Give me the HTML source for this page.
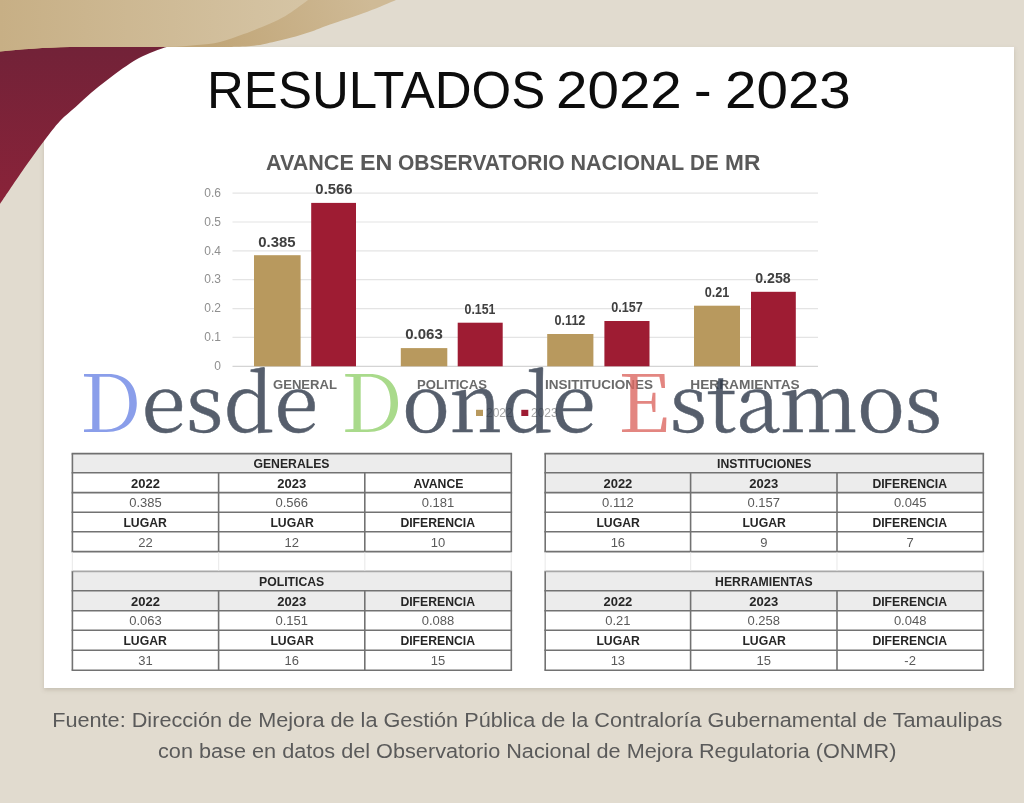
<!DOCTYPE html>
<html lang="es">
<head>
<meta charset="utf-8">
<title>Resultados 2022 - 2023</title>
<style>
html,body{margin:0;padding:0;}
body{width:1024px;height:803px;overflow:hidden;background:#e1dbcf;position:relative;font-family:"Liberation Sans",sans-serif;}
.abs{position:absolute;}
#deco{position:absolute;left:0;top:0;}
#card{position:absolute;left:44px;top:46.8px;width:969.6px;height:641.2px;background:#fff;box-shadow:0 2px 4px rgba(120,110,95,.25);}
#title{position:absolute;left:206.6px;top:60px;font-size:52.55px;line-height:60px;color:#0d0d0d;white-space:nowrap;letter-spacing:0px;}
#ctitle{position:absolute;left:266px;top:150.3px;font-size:21.55px;line-height:26px;font-weight:bold;color:#595959;white-space:nowrap;}
.yl{position:absolute;left:190px;width:31px;text-align:right;font-size:12px;line-height:14px;color:#8f8f8f;}
.dl{position:absolute;width:60px;text-align:center;font-size:14px;line-height:14px;font-weight:bold;color:#404040;}
.cl{position:absolute;width:140px;text-align:center;font-size:13.1px;line-height:14px;font-weight:bold;color:#6a6a6a;}
.lg{position:absolute;font-size:12px;line-height:14px;color:#a6a6a6;}
#wm{position:absolute;left:79.75px;top:348.2px;font-family:"Noto Serif CJK SC","DejaVu Serif","Liberation Serif",serif;font-size:80px;line-height:100px;color:#2c3748;white-space:nowrap;word-spacing:2px;opacity:.8;-webkit-text-stroke:.5px #2c3748;}
#wm .c{-webkit-text-stroke:0;}
.tc{position:absolute;text-align:center;font-size:13px;line-height:16px;height:16px;color:#5a5a5a;white-space:nowrap;}
.tc.b{font-weight:bold;color:#262626;}
.tc .n{display:inline-block;transform:scaleX(.94);transform-origin:50% 50%;}
.w1{letter-spacing:.3px}.w2{letter-spacing:-.4px}.w3{letter-spacing:-.4px}
.tp{position:absolute;top:0;transform-origin:0 50%;}
#cap .ln{height:31.3px;white-space:nowrap;transform:scaleY(.92);transform-origin:50% 23.15px;}
#cap{position:absolute;left:0;top:704px;width:1054.5px;text-align:center;font-size:21.68px;line-height:31.3px;color:#5a5a5a;}
</style>
</head>
<body>
<div id="card"></div>
<svg id="deco" viewBox="0 0 1024 803" width="1024" height="803">
  <defs>
    <linearGradient id="mg" gradientUnits="userSpaceOnUse" x1="0" y1="47" x2="0" y2="204">
      <stop offset="0" stop-color="#722238"/><stop offset="1" stop-color="#8a2339"/>
    </linearGradient>
    <linearGradient id="tg" gradientUnits="userSpaceOnUse" x1="0" y1="0" x2="300" y2="0">
      <stop offset="0" stop-color="#c7af85"/><stop offset="1" stop-color="#d5c4a4"/>
    </linearGradient>
    <linearGradient id="tg2" gradientUnits="userSpaceOnUse" x1="215" y1="47" x2="370" y2="0">
      <stop offset="0" stop-color="#c1a678"/><stop offset="1" stop-color="#cfba96"/>
    </linearGradient>
  </defs>
  <path d="M0 40 L176 40 L176.0 46.5 C174.6 46.5 171.5 45.9 167.8 46.7 C164.1 47.5 158.7 49.5 153.8 51.4 C148.8 53.3 143.3 55.5 138.1 58.4 C132.9 61.3 127.7 64.9 122.5 68.6 C117.3 72.2 112.1 76.3 106.9 80.3 C101.7 84.3 96.5 88.4 91.2 92.8 C86.0 97.2 80.8 102.2 75.6 106.9 C70.4 111.6 65.3 115.2 60.0 120.9 C54.7 126.6 50.3 132.6 44.0 141.0 C37.7 149.4 29.3 161.0 22.0 171.5 C14.7 182.0 3.7 198.6 0.0 204.0 Z" fill="url(#mg)"/>
  <path d="M0 0 L396.0 0.0 C391.2 1.9 378.5 7.6 367.5 11.7 C356.5 15.8 339.6 21.1 330.0 24.5 C320.4 27.9 316.6 29.8 310.0 32.0 C303.4 34.2 297.8 35.9 290.6 37.8 C283.4 39.7 273.6 42.0 267.0 43.4 C260.4 44.8 257.2 45.4 251.0 46.0 C244.8 46.6 233.5 46.8 230.0 47.0 L70 47 C45 47.5 20 49.5 0 51.5 Z" fill="url(#tg2)"/>
  <path d="M0 0 L308.0 0.0 C305.3 1.9 297.0 8.4 292.0 11.7 C287.0 15.0 283.0 17.4 278.0 20.0 C273.0 22.6 267.7 24.7 262.0 27.0 C256.3 29.3 250.8 31.5 243.8 34.0 C236.8 36.5 227.8 40.1 220.0 41.9 C212.2 43.7 205.3 44.2 197.0 45.0 C188.7 45.8 186.2 46.5 170.0 46.8 C153.8 47.1 111.7 47.0 70.0 47.0 C45 47.5 20 49.5 0 51.5 Z" fill="url(#tg)"/>
</svg>
<div id="title"><span class="tp" style="left:0;transform:scaleX(.971)">RESULTADOS</span> <span class="tp" style="left:349px;transform:scaleX(1.076)">2022</span> <span class="tp" style="left:487.3px;transform:scaleX(1)">-</span> <span class="tp" style="left:518px;transform:scaleX(1.076)">2023</span></div>
<div id="ctitle"><span class="tp" style="left:0.0px;transform:scaleX(1.000)">AVANCE</span> <span class="tp" style="left:94.3px;transform:scaleX(1.081)">EN</span> <span class="tp" style="left:132.4px;transform:scaleX(0.976)">OBSERVATORIO</span> <span class="tp" style="left:304.5px;transform:scaleX(1.000)">NACIONAL</span> <span class="tp" style="left:424.4px;transform:scaleX(0.957)">DE</span> <span class="tp" style="left:459.2px;transform:scaleX(1.053)">MR</span></div>

<!--CHART-->
<svg class="abs" style="left:0;top:0" width="1024" height="803" viewBox="0 0 1024 803">
<line x1="232.5" y1="366.3" x2="818" y2="366.3" stroke="#d4d4d4" stroke-width="1.2"/>
<line x1="232.5" y1="337.4" x2="818" y2="337.4" stroke="#e4e4e4" stroke-width="1.2"/>
<line x1="232.5" y1="308.6" x2="818" y2="308.6" stroke="#e4e4e4" stroke-width="1.2"/>
<line x1="232.5" y1="279.7" x2="818" y2="279.7" stroke="#e4e4e4" stroke-width="1.2"/>
<line x1="232.5" y1="250.8" x2="818" y2="250.8" stroke="#e4e4e4" stroke-width="1.2"/>
<line x1="232.5" y1="222.0" x2="818" y2="222.0" stroke="#e4e4e4" stroke-width="1.2"/>
<line x1="232.5" y1="193.1" x2="818" y2="193.1" stroke="#e4e4e4" stroke-width="1.2"/>
<rect x="254" y="255.2" width="46.6" height="111.1" fill="#b8995e"/>
<rect x="311.2" y="202.9" width="44.8" height="163.4" fill="#9e1c33"/>
<rect x="400.8" y="348.1" width="46.5" height="18.2" fill="#b8995e"/>
<rect x="457.7" y="322.7" width="45.0" height="43.6" fill="#9e1c33"/>
<rect x="547.2" y="334.0" width="46.2" height="32.3" fill="#b8995e"/>
<rect x="604.4" y="321.0" width="45.1" height="45.3" fill="#9e1c33"/>
<rect x="694" y="305.7" width="46.0" height="60.6" fill="#b8995e"/>
<rect x="751" y="291.8" width="44.8" height="74.5" fill="#9e1c33"/>
<rect x="476" y="409.8" width="7" height="6.2" fill="#b8995e"/>
<rect x="521.3" y="409.8" width="7" height="6.2" fill="#9e1c33"/>
</svg>
<div class="dl" style="left:247.3px;top:234.5px;transform:scaleX(1.066)">0.385</div>
<div class="dl" style="left:303.6px;top:182.2px;transform:scaleX(1.063)">0.566</div>
<div class="dl" style="left:394.1px;top:327.4px;transform:scaleX(1.072)">0.063</div>
<div class="dl" style="left:450.2px;top:302.0px;transform:scaleX(0.880)">0.151</div>
<div class="dl" style="left:540.3px;top:313.3px;transform:scaleX(0.897)">0.112</div>
<div class="dl" style="left:597.0px;top:300.3px;transform:scaleX(0.900)">0.157</div>
<div class="dl" style="left:687.0px;top:285.0px;transform:scaleX(0.903)">0.21</div>
<div class="dl" style="left:743.4px;top:271.1px;transform:scaleX(1.014)">0.258</div>
<div class="yl" style="top:359.0px">0</div>
<div class="yl" style="top:330.1px">0.1</div>
<div class="yl" style="top:301.3px">0.2</div>
<div class="yl" style="top:272.4px">0.3</div>
<div class="yl" style="top:243.5px">0.4</div>
<div class="yl" style="top:214.7px">0.5</div>
<div class="yl" style="top:185.8px">0.6</div>
<!--/CHART-->



<div class="cl" id="cl1" style="left:235px;top:378px">GENERAL</div>
<div class="cl" id="cl2" style="left:382px;top:378px">POLITICAS</div>
<div class="cl" id="cl3" style="left:528.8px;top:378px;transform:scaleX(1.032)">INSITITUCIONES</div>
<div class="cl" id="cl4" style="left:675.2px;top:378px;transform:scaleX(1.047)">HERRAMIENTAS</div>

<div class="lg" style="left:486px;top:406px">2022</div>
<div class="lg" style="left:531px;top:406px">2023</div>

<div id="wm"><span class="w1"><span class="c" style="color:#6e87e5">D</span>esde</span> <span class="w2"><span class="c" style="color:#94d16f">D</span>onde</span> <span class="w3"><span class="c" style="color:#dd6862">E</span>stamos</span></div>

<!--TABLES-->
<svg class="abs" style="left:0;top:0" width="1024" height="803" viewBox="0 0 1024 803">
<rect x="72.4" y="453.6" width="438.9" height="98.0" fill="#fff"/>
<rect x="72.4" y="453.6" width="438.9" height="19.2" fill="#ececec"/>
<line x1="71.60000000000001" y1="453.6" x2="512.1" y2="453.6" stroke="#707070" stroke-width="1.6"/>
<line x1="71.60000000000001" y1="472.8" x2="512.1" y2="472.8" stroke="#727272" stroke-width="1.6"/>
<line x1="71.60000000000001" y1="492.6" x2="512.1" y2="492.6" stroke="#727272" stroke-width="1.6"/>
<line x1="71.60000000000001" y1="512.3" x2="512.1" y2="512.3" stroke="#727272" stroke-width="1.6"/>
<line x1="71.60000000000001" y1="531.8" x2="512.1" y2="531.8" stroke="#727272" stroke-width="1.6"/>
<line x1="71.60000000000001" y1="551.6" x2="512.1" y2="551.6" stroke="#727272" stroke-width="1.6"/>
<line x1="72.4" y1="453.6" x2="72.4" y2="551.6" stroke="#727272" stroke-width="1.6"/>
<line x1="218.6" y1="472.8" x2="218.6" y2="551.6" stroke="#727272" stroke-width="1.6"/>
<line x1="364.8" y1="472.8" x2="364.8" y2="551.6" stroke="#727272" stroke-width="1.6"/>
<line x1="511.3" y1="453.6" x2="511.3" y2="551.6" stroke="#727272" stroke-width="1.6"/>
<rect x="72.4" y="571.4" width="438.9" height="98.9" fill="#fff"/>
<rect x="72.4" y="571.4" width="438.9" height="39.4" fill="#ececec"/>
<line x1="71.60000000000001" y1="571.4" x2="512.1" y2="571.4" stroke="#a8a8a8" stroke-width="1.6"/>
<line x1="71.60000000000001" y1="590.8" x2="512.1" y2="590.8" stroke="#727272" stroke-width="1.6"/>
<line x1="71.60000000000001" y1="610.8" x2="512.1" y2="610.8" stroke="#727272" stroke-width="1.6"/>
<line x1="71.60000000000001" y1="630.3" x2="512.1" y2="630.3" stroke="#727272" stroke-width="1.6"/>
<line x1="71.60000000000001" y1="650.2" x2="512.1" y2="650.2" stroke="#727272" stroke-width="1.6"/>
<line x1="71.60000000000001" y1="670.3" x2="512.1" y2="670.3" stroke="#727272" stroke-width="1.6"/>
<line x1="72.4" y1="571.4" x2="72.4" y2="670.3" stroke="#727272" stroke-width="1.6"/>
<line x1="218.6" y1="590.8" x2="218.6" y2="670.3" stroke="#727272" stroke-width="1.6"/>
<line x1="364.8" y1="590.8" x2="364.8" y2="670.3" stroke="#727272" stroke-width="1.6"/>
<line x1="511.3" y1="571.4" x2="511.3" y2="670.3" stroke="#727272" stroke-width="1.6"/>
<rect x="545.2" y="453.6" width="438.1" height="98.0" fill="#fff"/>
<rect x="545.2" y="453.6" width="438.1" height="39.0" fill="#ececec"/>
<line x1="544.4000000000001" y1="453.6" x2="984.0999999999999" y2="453.6" stroke="#707070" stroke-width="1.6"/>
<line x1="544.4000000000001" y1="472.8" x2="984.0999999999999" y2="472.8" stroke="#727272" stroke-width="1.6"/>
<line x1="544.4000000000001" y1="492.6" x2="984.0999999999999" y2="492.6" stroke="#727272" stroke-width="1.6"/>
<line x1="544.4000000000001" y1="512.3" x2="984.0999999999999" y2="512.3" stroke="#727272" stroke-width="1.6"/>
<line x1="544.4000000000001" y1="531.8" x2="984.0999999999999" y2="531.8" stroke="#727272" stroke-width="1.6"/>
<line x1="544.4000000000001" y1="551.6" x2="984.0999999999999" y2="551.6" stroke="#727272" stroke-width="1.6"/>
<line x1="545.2" y1="453.6" x2="545.2" y2="551.6" stroke="#727272" stroke-width="1.6"/>
<line x1="690.6" y1="472.8" x2="690.6" y2="551.6" stroke="#727272" stroke-width="1.6"/>
<line x1="837.0" y1="472.8" x2="837.0" y2="551.6" stroke="#727272" stroke-width="1.6"/>
<line x1="983.3" y1="453.6" x2="983.3" y2="551.6" stroke="#727272" stroke-width="1.6"/>
<rect x="545.2" y="571.4" width="438.1" height="98.9" fill="#fff"/>
<rect x="545.2" y="571.4" width="438.1" height="39.4" fill="#ececec"/>
<line x1="544.4000000000001" y1="571.4" x2="984.0999999999999" y2="571.4" stroke="#a8a8a8" stroke-width="1.6"/>
<line x1="544.4000000000001" y1="590.8" x2="984.0999999999999" y2="590.8" stroke="#727272" stroke-width="1.6"/>
<line x1="544.4000000000001" y1="610.8" x2="984.0999999999999" y2="610.8" stroke="#727272" stroke-width="1.6"/>
<line x1="544.4000000000001" y1="630.3" x2="984.0999999999999" y2="630.3" stroke="#727272" stroke-width="1.6"/>
<line x1="544.4000000000001" y1="650.2" x2="984.0999999999999" y2="650.2" stroke="#727272" stroke-width="1.6"/>
<line x1="544.4000000000001" y1="670.3" x2="984.0999999999999" y2="670.3" stroke="#727272" stroke-width="1.6"/>
<line x1="545.2" y1="571.4" x2="545.2" y2="670.3" stroke="#727272" stroke-width="1.6"/>
<line x1="690.6" y1="590.8" x2="690.6" y2="670.3" stroke="#727272" stroke-width="1.6"/>
<line x1="837.0" y1="590.8" x2="837.0" y2="670.3" stroke="#727272" stroke-width="1.6"/>
<line x1="983.3" y1="571.4" x2="983.3" y2="670.3" stroke="#727272" stroke-width="1.6"/>
<line x1="72.4" y1="552.4" x2="72.4" y2="570.6" stroke="#ececec" stroke-width="1.2"/>
<line x1="218.6" y1="552.4" x2="218.6" y2="570.6" stroke="#ececec" stroke-width="1.2"/>
<line x1="364.8" y1="552.4" x2="364.8" y2="570.6" stroke="#ececec" stroke-width="1.2"/>
<line x1="511.3" y1="552.4" x2="511.3" y2="570.6" stroke="#ececec" stroke-width="1.2"/>
<line x1="545.2" y1="552.4" x2="545.2" y2="570.6" stroke="#ececec" stroke-width="1.2"/>
<line x1="690.6" y1="552.4" x2="690.6" y2="570.6" stroke="#ececec" stroke-width="1.2"/>
<line x1="837.0" y1="552.4" x2="837.0" y2="570.6" stroke="#ececec" stroke-width="1.2"/>
<line x1="983.3" y1="552.4" x2="983.3" y2="570.6" stroke="#ececec" stroke-width="1.2"/>
</svg>
<div class="tc b" style="left:72.4px;top:456.0px;width:438.9px"><span class="n">GENERALES</span></div>
<div class="tc b" style="left:72.4px;top:475.5px;width:146.2px">2022</div>
<div class="tc b" style="left:218.6px;top:475.5px;width:146.2px">2023</div>
<div class="tc b" style="left:364.8px;top:475.5px;width:146.5px"><span class="n">AVANCE</span></div>
<div class="tc" style="left:72.4px;top:495.2px;width:146.2px">0.385</div>
<div class="tc" style="left:218.6px;top:495.2px;width:146.2px">0.566</div>
<div class="tc" style="left:364.8px;top:495.2px;width:146.5px">0.181</div>
<div class="tc b" style="left:72.4px;top:514.8px;width:146.2px"><span class="n">LUGAR</span></div>
<div class="tc b" style="left:218.6px;top:514.8px;width:146.2px"><span class="n">LUGAR</span></div>
<div class="tc b" style="left:364.8px;top:514.8px;width:146.5px"><span class="n">DIFERENCIA</span></div>
<div class="tc" style="left:72.4px;top:534.5px;width:146.2px">22</div>
<div class="tc" style="left:218.6px;top:534.5px;width:146.2px">12</div>
<div class="tc" style="left:364.8px;top:534.5px;width:146.5px">10</div>
<div class="tc b" style="left:72.4px;top:573.9px;width:438.9px"><span class="n">POLITICAS</span></div>
<div class="tc b" style="left:72.4px;top:593.6px;width:146.2px">2022</div>
<div class="tc b" style="left:218.6px;top:593.6px;width:146.2px">2023</div>
<div class="tc b" style="left:364.8px;top:593.6px;width:146.5px"><span class="n">DIFERENCIA</span></div>
<div class="tc" style="left:72.4px;top:613.3px;width:146.2px">0.063</div>
<div class="tc" style="left:218.6px;top:613.3px;width:146.2px">0.151</div>
<div class="tc" style="left:364.8px;top:613.3px;width:146.5px">0.088</div>
<div class="tc b" style="left:72.4px;top:633.0px;width:146.2px"><span class="n">LUGAR</span></div>
<div class="tc b" style="left:218.6px;top:633.0px;width:146.2px"><span class="n">LUGAR</span></div>
<div class="tc b" style="left:364.8px;top:633.0px;width:146.5px"><span class="n">DIFERENCIA</span></div>
<div class="tc" style="left:72.4px;top:653.0px;width:146.2px">31</div>
<div class="tc" style="left:218.6px;top:653.0px;width:146.2px">16</div>
<div class="tc" style="left:364.8px;top:653.0px;width:146.5px">15</div>
<div class="tc b" style="left:545.2px;top:456.0px;width:438.1px"><span class="n">INSTITUCIONES</span></div>
<div class="tc b" style="left:545.2px;top:475.5px;width:145.4px">2022</div>
<div class="tc b" style="left:690.6px;top:475.5px;width:146.4px">2023</div>
<div class="tc b" style="left:837.0px;top:475.5px;width:146.3px"><span class="n">DIFERENCIA</span></div>
<div class="tc" style="left:545.2px;top:495.2px;width:145.4px">0.112</div>
<div class="tc" style="left:690.6px;top:495.2px;width:146.4px">0.157</div>
<div class="tc" style="left:837.0px;top:495.2px;width:146.3px">0.045</div>
<div class="tc b" style="left:545.2px;top:514.8px;width:145.4px"><span class="n">LUGAR</span></div>
<div class="tc b" style="left:690.6px;top:514.8px;width:146.4px"><span class="n">LUGAR</span></div>
<div class="tc b" style="left:837.0px;top:514.8px;width:146.3px"><span class="n">DIFERENCIA</span></div>
<div class="tc" style="left:545.2px;top:534.5px;width:145.4px">16</div>
<div class="tc" style="left:690.6px;top:534.5px;width:146.4px">9</div>
<div class="tc" style="left:837.0px;top:534.5px;width:146.3px">7</div>
<div class="tc b" style="left:545.2px;top:573.9px;width:438.1px"><span class="n">HERRAMIENTAS</span></div>
<div class="tc b" style="left:545.2px;top:593.6px;width:145.4px">2022</div>
<div class="tc b" style="left:690.6px;top:593.6px;width:146.4px">2023</div>
<div class="tc b" style="left:837.0px;top:593.6px;width:146.3px"><span class="n">DIFERENCIA</span></div>
<div class="tc" style="left:545.2px;top:613.3px;width:145.4px">0.21</div>
<div class="tc" style="left:690.6px;top:613.3px;width:146.4px">0.258</div>
<div class="tc" style="left:837.0px;top:613.3px;width:146.3px">0.048</div>
<div class="tc b" style="left:545.2px;top:633.0px;width:145.4px"><span class="n">LUGAR</span></div>
<div class="tc b" style="left:690.6px;top:633.0px;width:146.4px"><span class="n">LUGAR</span></div>
<div class="tc b" style="left:837.0px;top:633.0px;width:146.3px"><span class="n">DIFERENCIA</span></div>
<div class="tc" style="left:545.2px;top:653.0px;width:145.4px">13</div>
<div class="tc" style="left:690.6px;top:653.0px;width:146.4px">15</div>
<div class="tc" style="left:837.0px;top:653.0px;width:146.3px">-2</div>
<!--/TABLES-->


<div id="cap"><div class="ln">Fuente: Dirección de Mejora de la Gestión Pública de la Contraloría Gubernamental de Tamaulipas</div><div class="ln">con base en datos del Observatorio Nacional de Mejora Regulatoria (ONMR)</div></div>
</body>
</html>
